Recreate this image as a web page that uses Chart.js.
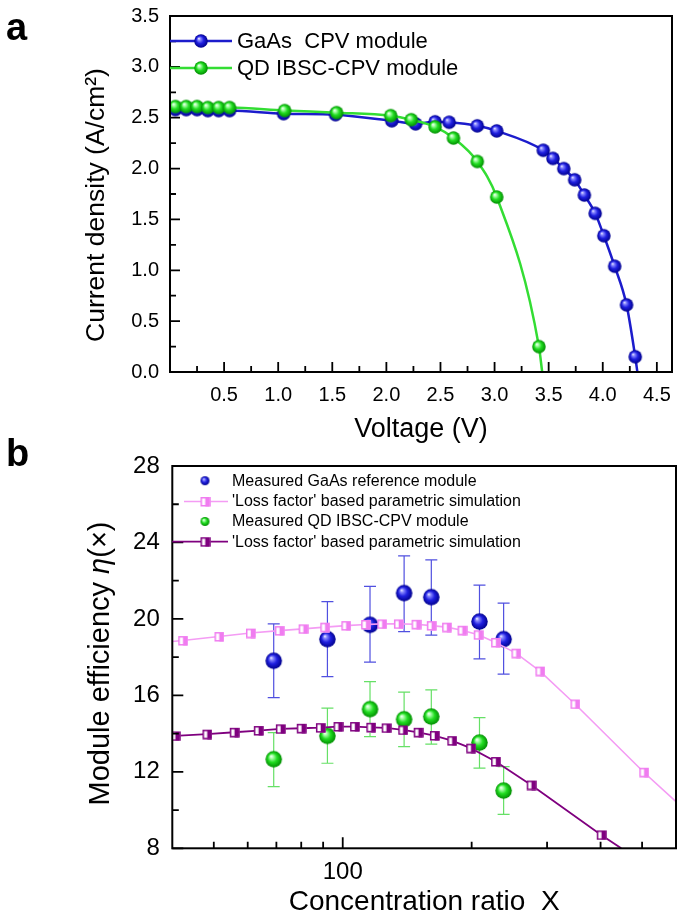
<!DOCTYPE html>
<html><head><meta charset="utf-8">
<script src="https://cdn.jsdelivr.net/npm/chart.js@4.4.1/dist/chart.umd.min.js"></script>
<style>
body{margin:0;background:#fff;}
#wrap{position:relative;width:685px;height:919px;overflow:hidden;font-family:'Liberation Sans',Arial,sans-serif;background:#fff;}
canvas{position:absolute;left:0;}
#c1{top:0;} #c2{top:455px;}
.pl{position:absolute;font-weight:bold;font-size:38px;line-height:1;color:#000;}
</style></head><body>
<div id="wrap">
<canvas id="c1" width="685" height="455"></canvas>
<canvas id="c2" width="685" height="464"></canvas>
<div class="pl" style="left:6px;top:8px">a</div>
<div class="pl" style="left:6px;top:434px">b</div>
</div>
<script>
// ---------- panel a data ----------
const gaasV = [0.05,0.15,0.25,0.35,0.45,0.55,1.05,1.53,2.05,2.27,2.45,2.58,2.84,3.02,3.45,3.54,3.64,3.74,3.83,3.93,4.01,4.11,4.22,4.30,4.32];
const gaasJ = [2.58,2.58,2.58,2.57,2.57,2.57,2.54,2.53,2.47,2.44,2.46,2.455,2.42,2.37,2.18,2.10,2.00,1.89,1.74,1.56,1.34,1.04,0.66,0.15,0.0];
const qdV = [0.05,0.15,0.25,0.35,0.45,0.55,1.06,1.54,2.04,2.23,2.45,2.62,2.84,3.02,3.41,3.44];
const qdJ = [2.61,2.61,2.61,2.60,2.60,2.60,2.57,2.55,2.52,2.48,2.41,2.30,2.07,1.72,0.25,0.0];
const topLegend = ['GaAs  CPV module', 'QD IBSC-CPV module'];
const topXTitle = 'Voltage (V)';
const topYTitle = ['Current density (A/cm\u00B2)'];
const topXTicks = [0.5,1.0,1.5,2.0,2.5,3.0,3.5,4.0,4.5];
const topXMinor = [0.25,0.75,1.25,1.75,2.25,2.75,3.25,3.75,4.25];
const topYTicks = [0,0.5,1.0,1.5,2.0,2.5,3.0,3.5];
const topYMinor = [0.25,0.75,1.25,1.75,2.25,2.75,3.25];

// ---------- panel b data ----------
const simGaAsX = [40,42.3,51.4,60.9,71.1,80.8,90.8,101.7,113.1,123.4,134.9,148.3,161,174.8,189.9,207.2,227.5,253.7,288.7,348.5,504.6,600];
const simGaAsY = [18.82,18.87,19.08,19.26,19.39,19.48,19.57,19.65,19.71,19.74,19.74,19.72,19.65,19.57,19.41,19.17,18.77,18.21,17.27,15.55,11.98,10.44];
const simQDX = [40.6,48.2,55.8,63.5,71.5,80.0,88.7,97.5,106.6,116.3,126.3,138.1,150.0,163.7,179.8,199.0,227.5,275.4,401.4,447];
const simQDY = [13.88,13.97,14.07,14.16,14.25,14.28,14.31,14.37,14.37,14.33,14.30,14.19,14.07,13.90,13.63,13.24,12.54,11.31,8.70,8.0];
const measX = [69.0,92.1,115.8,139.1,161.0,208.6,237.5];
const gaasEff = [17.81,18.94,19.69,21.35,21.14,19.86,18.94];
const gaasErrHi = [19.74,20.91,21.70,23.30,23.09,21.77,20.83];
const gaasErrLo = [15.88,16.98,17.74,19.34,19.15,17.91,17.11];
const qdEff = [12.66,13.88,15.28,14.75,14.89,13.53,11.02];
const qdErrHi = [14.05,15.33,16.72,16.17,16.29,14.84,12.27];
const qdErrLo = [11.23,12.45,13.84,13.32,13.45,12.19,9.78];
const botLegend = ['Measured GaAs reference module', "'Loss factor' based parametric simulation", 'Measured QD IBSC-CPV module', "'Loss factor' based parametric simulation"];
const botXTitle = 'Concentration ratio  X';
const botYTitle = ['Module efficiency ', '\u03B7', '(\u00D7)'];
const botYTitleItalic = [false, true, false];
const botXTicks = [100];
const botXMinor = [50,60,70,80,90,200,300,400,500];
const botYTicks = [8,12,16,20,24,28];
const botYMinor = [10,14,18,22,26];

const FAM = "'Liberation Sans', Arial, sans-serif";
Chart.defaults.font.family = FAM;
Chart.defaults.color = '#000';

// ---------- marker images ----------
function ball(d, c0, c1, c2){
  const cv = document.createElement('canvas');
  cv.width = cv.height = Math.ceil(d) + 2;
  const x = cv.getContext('2d');
  const r = d/2, cx = cv.width/2, cy = cv.height/2;
  const g = x.createRadialGradient(cx-0.33*r, cy-0.38*r, 0, cx, cy, r);
  g.addColorStop(0, '#ffffff');
  g.addColorStop(0.2, c0);
  g.addColorStop(0.55, c1);
  g.addColorStop(1, c2);
  x.fillStyle = g;
  x.beginPath(); x.arc(cx, cy, r, 0, Math.PI*2); x.fill();
  return cv;
}
function sq(s, col){
  const cv = document.createElement('canvas');
  cv.width = cv.height = s + 2;
  const x = cv.getContext('2d');
  x.fillStyle = '#fff'; x.fillRect(1,1,s,s);
  x.fillStyle = col; x.fillRect(1+s/2,1,s/2,s);
  x.strokeStyle = col; x.lineWidth = 1.5; x.strokeRect(1.75,1.75,s-1.5,s-1.5);
  return cv;
}
const BLUE_L = '#1c1ccc', GREEN_L = '#33dd33';
const blueBallTop = ball(13.5, '#8c8cff', '#2020e0', '#00008c');
const greenBallTop = ball(13.5, '#b0ffb0', '#22dd22', '#008c00');
const blueBall = ball(16.5, '#8c8cff', '#2020e0', '#00008c');
const greenBall = ball(16.5, '#b0ffb0', '#22dd22', '#008c00');
const blueBallSm = ball(9, '#8c8cff', '#2020e0', '#00008c');
const greenBallSm = ball(9, '#b0ffb0', '#22dd22', '#008c00');
const PINK = '#f07cf0', PINK_L = '#f49cf4', PURP = '#7f007f';
const pinkSq = sq(9.5, PINK), purpSq = sq(9.5, PURP);

// ---------- plugins ----------
const framePlugin = {
  id: 'frame',
  afterDatasetsDraw(chart, args, o){
    const {ctx, chartArea: a, scales: {x, y}} = chart;
    ctx.save();
    ctx.strokeStyle = '#000'; ctx.lineWidth = 1.8;
    ctx.beginPath();
    o.xMajor.forEach(v => { const p = x.getPixelForValue(v); ctx.moveTo(p, a.bottom); ctx.lineTo(p, a.bottom - o.majorLen); });
    o.xMinor.forEach(v => { const p = x.getPixelForValue(v); ctx.moveTo(p, a.bottom); ctx.lineTo(p, a.bottom - o.minorLen); });
    o.yMajor.forEach(v => { const p = y.getPixelForValue(v); ctx.moveTo(a.left, p); ctx.lineTo(a.left + o.majorLen, p); });
    o.yMinor.forEach(v => { const p = y.getPixelForValue(v); ctx.moveTo(a.left, p); ctx.lineTo(a.left + o.minorLen, p); });
    ctx.stroke();
    ctx.lineWidth = 2;
    ctx.strokeRect(a.left, a.top, a.right - a.left, a.bottom - a.top);
    ctx.restore();
  }
};
const errPlugin = {
  id: 'errbars',
  beforeDatasetsDraw(chart, args, o){
    if (!o.sets) return;
    const {ctx, scales: {x, y}} = chart;
    ctx.save();
    ctx.lineWidth = 1.2;
    o.sets.forEach(s => {
      ctx.strokeStyle = s.color;
      ctx.beginPath();
      s.x.forEach((xv, i) => {
        const px = x.getPixelForValue(xv);
        const hi = y.getPixelForValue(s.hi[i]), lo = y.getPixelForValue(s.lo[i]);
        ctx.moveTo(px, hi); ctx.lineTo(px, lo);
        ctx.moveTo(px - 6, hi); ctx.lineTo(px + 6, hi);
        ctx.moveTo(px - 6, lo); ctx.lineTo(px + 6, lo);
      });
      ctx.stroke();
    });
    ctx.restore();
  }
};
const legendPlugin = {
  id: 'customLegend',
  afterDraw(chart, args, o){
    const ctx = chart.ctx;
    ctx.save();
    ctx.font = o.fontSize + 'px ' + FAM;
    ctx.textBaseline = 'middle'; ctx.textAlign = 'left'; ctx.fillStyle = '#000';
    o.items.forEach(it => {
      if (it.line) {
        ctx.strokeStyle = it.line; ctx.lineWidth = it.lw;
        ctx.beginPath(); ctx.moveTo(it.x0, it.y); ctx.lineTo(it.x1, it.y); ctx.stroke();
      }
      ctx.drawImage(it.img, it.mx - it.img.width/2, it.y - it.img.height/2);
      ctx.fillText(it.text, o.textX, it.y + 0.5);
    });
    ctx.restore();
  }
};
const yTitlePlugin = {
  id: 'yTitle',
  afterDraw(chart, args, o){
    const ctx = chart.ctx;
    ctx.save();
    ctx.translate(o.x, o.y);
    ctx.rotate(-Math.PI / 2);
    ctx.textBaseline = 'middle'; ctx.textAlign = 'left'; ctx.fillStyle = '#000';
    const fonts = o.parts.map((t, i) => ((o.italic && o.italic[i]) ? 'italic ' : '') + o.size + 'px ' + FAM);
    const widths = o.parts.map((t, i) => { ctx.font = fonts[i]; return ctx.measureText(t).width; });
    let cx = -widths.reduce((a, b) => a + b, 0) / 2;
    o.parts.forEach((t, i) => { ctx.font = fonts[i]; ctx.fillText(t, cx, 0); cx += widths[i]; });
    ctx.restore();
  }
};
function noPadY(s, w){ s.width = w; s.paddingTop = 0; s.paddingBottom = 0; }
function noPadX(s, h){ s.height = h; s.paddingLeft = 0; s.paddingRight = 0; }

function pts(xs, ys){ return xs.map((v, i) => ({x: v, y: ys[i]})); }

// ---------- chart a ----------
new Chart(document.getElementById('c1'), {
  type: 'scatter',
  plugins: [framePlugin, legendPlugin, yTitlePlugin],
  data: {
    datasets: [
      { label: topLegend[0], data: pts(gaasV, gaasJ), showLine: true, borderColor: BLUE_L, borderWidth: 2.5,
        cubicInterpolationMode: 'monotone', order: 2,
        pointStyle: c => blueBallTop, pointRadius: c => (c.dataIndex === gaasV.length - 1 ? 0 : 6.5) },
      { label: topLegend[1], data: pts(qdV, qdJ), showLine: true, borderColor: GREEN_L, borderWidth: 2.5,
        cubicInterpolationMode: 'monotone', order: 1,
        pointStyle: c => greenBallTop, pointRadius: c => (c.dataIndex === qdV.length - 1 ? 0 : 6.5) }
    ]
  },
  options: {
    responsive: false, animation: false, events: [],
    layout: { padding: { left: 0, right: 13, top: 16, bottom: 0 } },
    plugins: {
      legend: { display: false }, tooltip: { enabled: false },
      frame: { xMajor: topXTicks, xMinor: topXMinor, yMajor: topYTicks, yMinor: topYMinor, majorLen: 10, minorLen: 6 },
      customLegend: { fontSize: 22, textX: 237, items: [
        { line: BLUE_L, lw: 2.5, x0: 170, x1: 232, y: 41, mx: 201, img: blueBallTop, text: topLegend[0] },
        { line: GREEN_L, lw: 2.5, x0: 170, x1: 232, y: 68, mx: 201, img: greenBallTop, text: topLegend[1] }
      ] },
      yTitle: { parts: topYTitle, size: 26.5, x: 97, y: 205 }
    },
    scales: {
      x: { type: 'linear', min: 0, max: 4.64,
        grid: { display: false, drawTicks: false }, border: { display: false },
        afterBuildTicks: s => { s.ticks = topXTicks.map(v => ({ value: v })); },
        afterFit: s => noPadX(s, 83),
        ticks: { callback: v => Number(v).toFixed(1), font: { size: 20 }, color: '#000', padding: 11, maxRotation: 0, autoSkip: false },
        title: { display: true, text: topXTitle, font: { size: 27 }, color: '#000', padding: { top: 0, bottom: 9 } } },
      y: { type: 'linear', min: 0, max: 3.5,
        grid: { display: false, drawTicks: false }, border: { display: false },
        afterBuildTicks: s => { s.ticks = topYTicks.map(v => ({ value: v })); },
        afterFit: s => noPadY(s, 170),
        ticks: { callback: v => Number(v).toFixed(1), font: { size: 20 }, color: '#000', padding: 11, autoSkip: false },
        title: { display: false } }
    }
  }
});

// ---------- chart b ----------
new Chart(document.getElementById('c2'), {
  type: 'scatter',
  plugins: [errPlugin, framePlugin, legendPlugin, yTitlePlugin],
  data: {
    datasets: [
      { label: botLegend[0], data: pts(measX, gaasEff), showLine: false, order: 3,
        pointStyle: blueBall, pointRadius: 8 },
      { label: botLegend[1], data: pts(simGaAsX, simGaAsY), showLine: true, borderColor: PINK_L, borderWidth: 1.6, order: 1,
        pointStyle: pinkSq, pointRadius: c => ((c.dataIndex === 0 || c.dataIndex === simGaAsX.length - 1) ? 0 : 5) },
      { label: botLegend[2], data: pts(measX, qdEff), showLine: false, order: 3,
        pointStyle: greenBall, pointRadius: 8 },
      { label: botLegend[3], data: pts(simQDX, simQDY), showLine: true, borderColor: PURP, borderWidth: 1.8, order: 1,
        pointStyle: purpSq, pointRadius: c => (c.dataIndex === simQDX.length - 1 ? 0 : 5) }
    ]
  },
  options: {
    responsive: false, animation: false, events: [],
    layout: { padding: { left: 0, right: 8.3, top: 11, bottom: 0 } },
    plugins: {
      legend: { display: false }, tooltip: { enabled: false },
      errbars: { sets: [
        { x: measX, hi: gaasErrHi, lo: gaasErrLo, color: '#5050e0' },
        { x: measX, hi: qdErrHi, lo: qdErrLo, color: '#66e066' }
      ] },
      frame: { xMajor: botXTicks, xMinor: botXMinor, yMajor: botYTicks, yMinor: botYMinor, majorLen: 11, minorLen: 6.5 },
      customLegend: { fontSize: 16, textX: 232, items: [
        { y: 25.7, mx: 205, img: blueBallSm, text: botLegend[0] },
        { line: PINK_L, lw: 1.6, x0: 184, x1: 228, y: 46.5, mx: 205, img: pinkSq, text: botLegend[1] },
        { y: 66.5, mx: 205, img: greenBallSm, text: botLegend[2] },
        { line: PURP, lw: 1.8, x0: 172.3, x1: 228, y: 86.7, mx: 205, img: purpSq, text: botLegend[3] }
      ] },
      yTitle: { parts: botYTitle, italic: botYTitleItalic, size: 29, x: 101, y: 208.5 }
    },
    scales: {
      x: { type: 'logarithmic', min: 40, max: 600,
        grid: { display: false, drawTicks: false }, border: { display: false },
        afterBuildTicks: s => { s.ticks = botXTicks.map(v => ({ value: v })); },
        afterFit: s => noPadX(s, 70.7),
        ticks: { callback: v => String(v), font: { size: 24 }, color: '#000', padding: 10, maxRotation: 0, autoSkip: false },
        title: { display: true, text: botXTitle, font: { size: 28 }, color: '#000', padding: { top: 0, bottom: 0 } } },
      y: { type: 'linear', min: 8, max: 28,
        grid: { display: false, drawTicks: false }, border: { display: false },
        afterBuildTicks: s => { s.ticks = botYTicks.map(v => ({ value: v })); },
        afterFit: s => noPadY(s, 172.3),
        ticks: { callback: v => String(v), font: { size: 24 }, color: '#000', padding: 12.5, autoSkip: false },
        title: { display: false } }
    }
  }
});
</script>
</body></html>
